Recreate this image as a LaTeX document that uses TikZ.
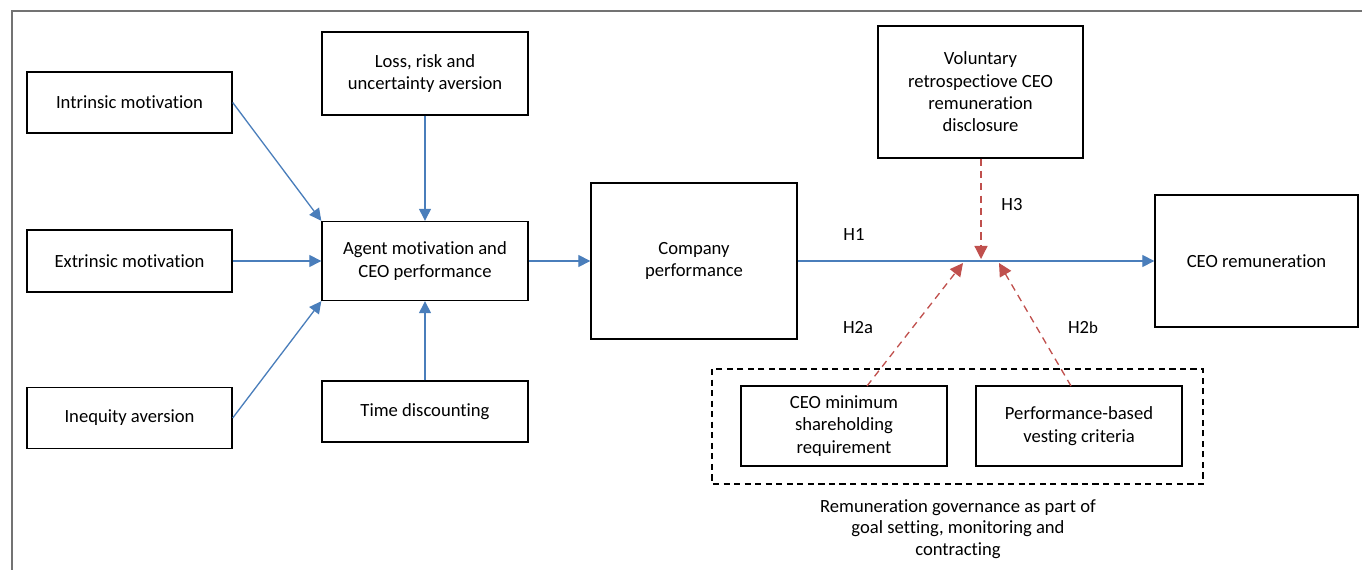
\documentclass[tikz,border=0pt]{standalone}
\usepackage{fontspec}
\setmainfont{Carlito}[Ligatures=NoCommon]
\usetikzlibrary{arrows.meta}

\definecolor{linkblue}{HTML}{4A7EBB}
\definecolor{hypred}{HTML}{C0504D}

\tikzset{
	box/.style={draw=black, line width=0.8pt, align=center, inner sep=2pt,
		font=\fontsize{10.6}{12.7}\selectfont},
	link/.style={draw=linkblue, line width=0.75pt, -{Triangle[length=0.24cm, width=0.24cm]}},
	hyp/.style={draw=hypred, line width=0.75pt, dash pattern=on 4pt off 3pt,
		-{Triangle[length=0.26cm, width=0.26cm]}},
	hlabel/.style={font=\fontsize{10.6}{12.2}\selectfont},
}

\begin{document}
\begin{tikzpicture}[x=0.02cm, y=-0.02cm]
		%%%%% START %%%%%
		\useasboundingbox (0, 0) rectangle (1362, 570);
		\draw[line width=0.9pt, color=black!55] (12, 570) -- (12, 11) -- (1362, 11);
		
		% drivers on the left
		\node[box, minimum width=4.10cm, minimum height=1.22cm] (intr) at (129.5, 102.5) {Intrinsic motivation};
		\node[box, minimum width=4.10cm, minimum height=1.24cm] (extr) at (129.5, 261) {Extrinsic motivation};
		\node[box, minimum width=4.10cm, minimum height=1.22cm] (ineq) at (129.5, 418) {Inequity aversion};
		
		\node[box, minimum width=4.12cm, minimum height=1.66cm] (loss) at (425, 73.5) {Loss, risk and\\uncertainty aversion};
		\node[box, minimum width=4.12cm, minimum height=1.58cm] (agent) at (425, 261) {Agent motivation and\\CEO performance};
		\node[box, minimum width=4.12cm, minimum height=1.22cm] (time) at (425, 411.5) {Time discounting};
		
		\node[box, minimum width=4.12cm, minimum height=3.12cm] (comp) at (694, 261) {Company\\performance};
		\node[box, minimum width=4.10cm, minimum height=2.64cm] (vol) at (980.5, 92) {Voluntary\\retrospectiove CEO\\remuneration\\disclosure};
		\node[box, minimum width=4.06cm, minimum height=2.64cm] (rem) at (1256.5, 261) {CEO remuneration};
		
		% governance group
		\draw[line width=0.8pt, dash pattern=on 3.5pt off 2.5pt] (712, 369) rectangle (1203, 484);
		\node[box, minimum width=4.12cm, minimum height=1.60cm] (share) at (844, 426) {CEO minimum\\shareholding\\requirement};
		\node[box, minimum width=4.12cm, minimum height=1.60cm] (vest) at (1079, 426) {Performance-based\\vesting criteria};
		\node[hlabel, align=center] (gov) at (958, 529) {Remuneration governance as part of\\goal setting, monitoring and\\contracting};
		
		% blue links
		\draw[link] (intr.east) -- (agent.north west);
		\draw[link] (extr.east) -- (agent.west);
		\draw[link] (ineq.east) -- (agent.south west);
		\draw[link] (loss.south) -- (agent.north);
		\draw[link] (time.north) -- (agent.south);
		\draw[link] (agent.east) -- (comp.west);
		\draw[link] (comp.east) -- (rem.west);
		
		% moderators
		\coordinate (h3tip) at (981, 259);
		\coordinate (h2atip) at (963, 263);
		\coordinate (h2btip) at (999, 263);
		\draw[hyp] (vol.south -| h3tip) -- (h3tip);
		\draw[hyp] (867, 386) -- (h2atip);
		\draw[hyp] (1071, 386) -- (h2btip);
		
		\node[hlabel] (h1) at (854, 235) {H1};
		\node[hlabel] (h3) at (1012, 205) {H3};
		\node[hlabel] (h2a) at (858, 328) {H2a};
		\node[hlabel] (h2b) at (1083, 328) {H2{\fontsize{9.6}{10}\selectfont b}};
		
		%%%%% END %%%%%
	\end{tikzpicture}
\end{document}
